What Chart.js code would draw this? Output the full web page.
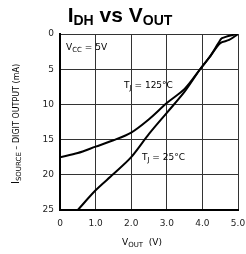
<!DOCTYPE html>
<html>
<head>
<meta charset="utf-8">
<script src="https://cdn.jsdelivr.net/npm/chart.js@4.4.1/dist/chart.umd.min.js"></script>
<style>
  html, body { margin: 0; padding: 0; background: #fff; }
  #wrap { width: 246px; height: 254px; position: relative; }
</style>
</head>
<body>
<div id="wrap"><canvas id="myChart" width="246" height="254"></canvas></div>
<script>
// values
const vOut25 = [0.5, 1.0, 1.5, 2.0, 2.5, 3.0, 3.5, 3.95, 4.2, 4.5, 4.75, 5.0];
const iSrc25 = [25, 22.2, 19.9, 17.5, 14.2, 11.2, 8.2, 4.9, 3.3, 1.3, 0.85, 0];
const vOut125 = [0, 0.5, 1.0, 1.5, 2.0, 2.5, 3.0, 3.5, 3.95, 4.2, 4.45, 4.55, 4.95];
const iSrc125 = [17.5, 16.9, 16.0, 15.1, 14.0, 12.1, 9.8, 7.8, 4.9, 3.3, 1.3, 0.6, 0];
const xTicks = ["0", "1.0", "2.0", "3.0", "4.0", "5.0"];
const yTicks = ["0", "5", "10", "15", "20", "25"];

const toPoints = (xs, ys) => xs.map((x, i) => ({ x: x, y: ys[i] }));

// draws a run of [text, size, dy] pieces starting at x,y
function drawRich(ctx, parts, x, y, weight, family) {
  let cx = x;
  parts.forEach((p) => {
    ctx.font = weight + " " + p[1] + "px " + family;
    ctx.fillText(p[0], cx, y + p[2]);
    cx += ctx.measureText(p[0]).width;
  });
}
function richWidth(ctx, parts, weight, family) {
  let w = 0;
  parts.forEach((p) => {
    ctx.font = weight + " " + p[1] + "px " + family;
    w += ctx.measureText(p[0]).width;
  });
  return w;
}

const textPlugin = {
  id: "texts",
  afterDraw(chart) {
    const ctx = chart.ctx;
    const xs = chart.scales.x;
    const ys = chart.scales.y;
    ctx.save();
    ctx.fillStyle = "#000";
    ctx.textBaseline = "alphabetic";

    // title
    const title = [["I", 21, 0], ["DH", 14, 3], [" vs ", 21, 0], ["V", 21, 0], ["OUT", 14, 3]];
    const tw = richWidth(ctx, title, "bold", "Liberation Sans");
    drawRich(ctx, title, 120 - tw / 2, 22, "bold", "Liberation Sans");

    // x axis title
    const xt = [["V", 9, 0], ["OUT", 7, 2], ["  (V)", 9, 0]];
    const xw = richWidth(ctx, xt, "normal", "DejaVu Sans");
    drawRich(ctx, xt, 142 - xw / 2, 245, "normal", "DejaVu Sans");

    // y axis title
    ctx.save();
    ctx.translate(19, 124);
    ctx.rotate(-Math.PI / 2);
    const yt = [["I", 10, 0], ["SOURCE", 7, 2], [" \u2013 DIGIT OUTPUT (mA)", 8, 0]];
    const yw = richWidth(ctx, yt, "normal", "DejaVu Sans");
    drawRich(ctx, yt, -yw / 2, 0, "normal", "DejaVu Sans");
    ctx.restore();

    // notes inside the plot
    const notes = [
      [[["V", 9, 0], ["CC", 7, 2], [" = 5V", 9, 0]], 0.17, 2.3],
      [[["T", 9, 0], ["J", 7, 2], [" = 125\u00b0C", 9, 0]], 1.8, 7.6],
      [[["T", 9, 0], ["J", 7, 2], [" = 25\u00b0C", 9, 0]], 2.3, 17.9],
    ];
    notes.forEach((n) => {
      drawRich(ctx, n[0], xs.getPixelForValue(n[1]), ys.getPixelForValue(n[2]), "normal", "DejaVu Sans");
    });
    ctx.restore();
  },
};

const config = {
  type: "scatter",
  data: {
    datasets: [
      {
        label: "TJ = 25\u00b0C",
        data: toPoints(vOut25, iSrc25),
        showLine: true,
        borderColor: "#000",
        borderWidth: 2,
        pointRadius: 0,
        tension: 0.3,
      },
      {
        label: "TJ = 125\u00b0C",
        data: toPoints(vOut125, iSrc125),
        showLine: true,
        borderColor: "#000",
        borderWidth: 2,
        pointRadius: 0,
        tension: 0.3,
      },
    ],
  },
  options: {
    responsive: false,
    animation: false,
    layout: { padding: { top: 34, right: 8, left: 0, bottom: 0 } },
    plugins: {
      legend: { display: false },
      tooltip: { enabled: false },
    },
    scales: {
      x: {
        type: "linear",
        min: 0,
        max: 5,
        afterFit: (s) => { s.height = 44; s.paddingRight = 0; s.paddingLeft = 0; },
        ticks: {
          stepSize: 1,
          padding: 8,
          color: "#222",
          font: { family: "DejaVu Sans", size: 9 },
          callback: (v) => xTicks[Math.round(v)],
        },
        grid: { color: "#333", lineWidth: 1, drawTicks: false },
        border: { color: "#000", width: 2 },
      },
      y: {
        min: 0,
        max: 25,
        reverse: true,
        afterFit: (s) => { s.width = 60; s.paddingTop = 0; s.paddingBottom = 0; },
        ticks: {
          stepSize: 5,
          padding: 6,
          color: "#222",
          font: { family: "DejaVu Sans", size: 9 },
          callback: (v) => yTicks[Math.round(v / 5)],
        },
        grid: { color: "#333", lineWidth: 1, drawTicks: false },
        border: { color: "#000", width: 2 },
      },
    },
  },
  plugins: [textPlugin],
};

const myChart = new Chart(document.getElementById("myChart"), config);
</script>
</body>
</html>
